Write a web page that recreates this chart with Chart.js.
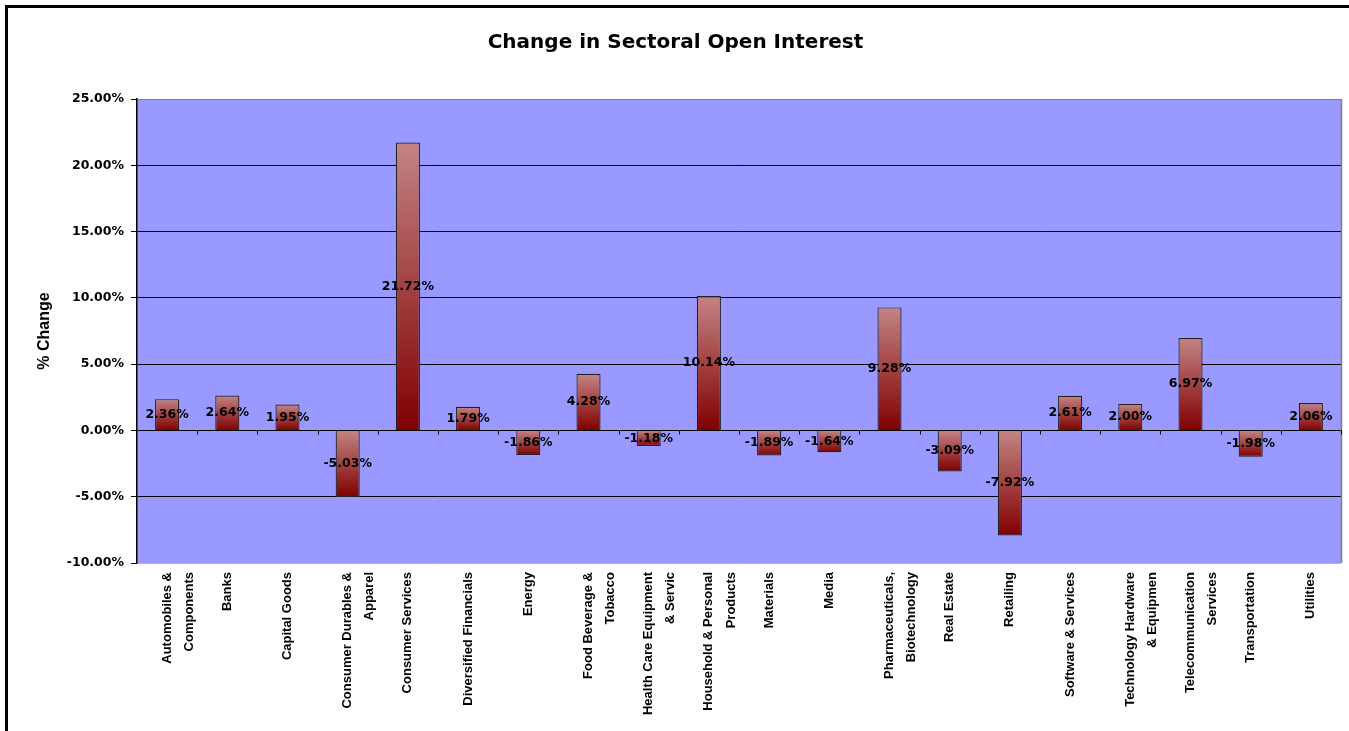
<!DOCTYPE html>
<html lang="en">
<head>
<meta charset="UTF-8">
<title>Change in Sectoral Open Interest</title>
<script src="https://cdn.jsdelivr.net/npm/chart.js"></script>
<style>
  html, body { margin: 0; padding: 0; background: #fff; }
  #wrap { width: 1349px; height: 731px; position: relative; }
</style>
</head>
<body>
<div id="wrap"><canvas id="oiChart"></canvas></div>
<script>
const sectors = [
  ["Automobiles &", "Components"],
  "Banks",
  "Capital Goods",
  ["Consumer Durables &", "Apparel"],
  "Consumer Services",
  "Diversified Financials",
  "Energy",
  ["Food Beverage &", "Tobacco"],
  ["Health Care Equipment", "& Servic"],
  ["Household & Personal", "Products"],
  "Materials",
  "Media",
  ["Pharmaceuticals,", "Biotechnology"],
  "Real Estate",
  "Retailing",
  "Software & Services",
  ["Technology Hardware", "& Equipmen"],
  ["Telecommunication", "Services"],
  "Transportation",
  "Utilities"
];
const oiChange = [2.36, 2.64, 1.95, -5.03, 21.72, 1.79, -1.86, 4.28, -1.18, 10.14,
                  -1.89, -1.64, 9.28, -3.09, -7.92, 2.61, 2.00, 6.97, -1.98, 2.06];
const yMin = -10, yMax = 25, yStep = 5;

const wideBold = '"DejaVu Sans", Verdana, sans-serif';

// white page, outer frame, plot background, ticks and value labels
const framePlugin = {
  id: 'frame',
  beforeDraw(chart) {
    const c = chart.ctx;
    c.save();
    c.fillStyle = '#fff';
    c.fillRect(0, 0, chart.width, chart.height);
    c.strokeStyle = '#000';
    c.lineWidth = 3;
    c.strokeRect(6.5, 6.5, chart.width + 40, chart.height + 40);
    const a = chart.chartArea;
    c.fillStyle = '#9999ff';
    c.fillRect(a.left, a.top, a.right - a.left, a.bottom - a.top);
    c.restore();
  },
  afterDatasetsDraw(chart) {
    const c = chart.ctx, a = chart.chartArea;
    const x = chart.scales.x, y = chart.scales.y;
    const y0 = y.getPixelForValue(0);
    c.save();
    c.strokeStyle = '#808080';
    c.lineWidth = 1.5;
    c.beginPath();
    c.moveTo(a.right + 0.5, a.top);
    c.lineTo(a.right + 0.5, a.bottom);
    c.stroke();
    // category tick marks on the zero line
    c.strokeStyle = '#000';
    c.lineWidth = 1;
    c.beginPath();
    const step = x.getPixelForValue(1) - x.getPixelForValue(0);
    for (let i = 0; i < sectors.length; i++) {
      const bx = Math.round(x.getPixelForValue(i) + step / 2);
      c.moveTo(bx + 0.5, y0);
      c.lineTo(bx + 0.5, y0 + 4);
    }
    c.stroke();
    // value labels centred in bars
    c.fillStyle = '#000';
    c.font = 'bold 12.5px ' + wideBold;
    c.textAlign = 'center';
    c.textBaseline = 'middle';
    const meta = chart.getDatasetMeta(0);
    meta.data.forEach((bar, i) => {
      const v = oiChange[i];
      const cy = (y.getPixelForValue(v) + y0) / 2;
      c.fillText(v.toFixed(2) + '%', bar.x, cy);
    });
    c.restore();
  }
};

function barFill(ctx) {
  const chart = ctx.chart;
  const y = chart.scales.y;
  if (!y || !chart.chartArea || ctx.dataIndex === undefined) return '#a04040';
  const v = oiChange[ctx.dataIndex];
  const top = y.getPixelForValue(Math.max(v, 0));
  const bottom = y.getPixelForValue(Math.min(v, 0));
  if (!isFinite(top) || !isFinite(bottom) || top === bottom) return '#a04040';
  const g = chart.ctx.createLinearGradient(0, top, 0, bottom);
  g.addColorStop(0, '#c48484');
  g.addColorStop(1, '#800000');
  return g;
}

new Chart(document.getElementById('oiChart'), {
  type: 'bar',
  data: {
    labels: sectors,
    datasets: [{
      data: oiChange,
      backgroundColor: barFill,
      borderColor: '#222',
      borderWidth: 1.2,
      barPercentage: 0.4,
      categoryPercentage: 1.0
    }]
  },
  options: {
    responsive: true,
    maintainAspectRatio: false,
    animation: false,
    layout: { padding: { left: 10, right: 8, top: 0, bottom: 0 } },
    plugins: {
      legend: { display: false },
      tooltip: { enabled: false },
      title: {
        display: true,
        text: 'Change in Sectoral Open Interest',
        color: '#000',
        font: { family: wideBold, size: 20, weight: 'bold' },
        padding: { top: 31, bottom: 44 }
      }
    },
    scales: {
      x: {
        grid: { display: false, drawTicks: false },
        border: { display: false },
        ticks: {
          color: '#000',
          autoSkip: false,
          maxRotation: 90,
          minRotation: 90,
          padding: 9,
          font: { family: '"Liberation Sans", Arial, sans-serif', size: 13, weight: 'bold', lineHeight: 1.7 }
        },
        afterFit(scale) { scale.height = 168; }
      },
      y: {
        min: yMin,
        max: yMax,
        ticks: {
          stepSize: yStep,
          color: '#000',
          padding: 7,
          font: { family: wideBold, size: 12.5, weight: 'bold' },
          callback: v => v.toFixed(2) + '%'
        },
        grid: {
          color: ctx => ctx.tick && ctx.tick.value === yMax ? '#808080' : (ctx.tick && ctx.tick.value === yMin ? '#b0b0d8' : '#000'),
          lineWidth: 1,
          tickLength: 6,
          tickColor: '#000'
        },
        border: { display: true, color: '#000', width: 1.5 },
        title: {
          display: true,
          text: '% Change',
          color: '#000',
          font: { family: '"Liberation Sans", Arial, sans-serif', size: 16, weight: 'bold' },
          padding: { top: 25, bottom: 0 }
        },
        afterFit(scale) { scale.width = 127; }
      }
    }
  },
  plugins: [framePlugin]
});
</script>
</body>
</html>
